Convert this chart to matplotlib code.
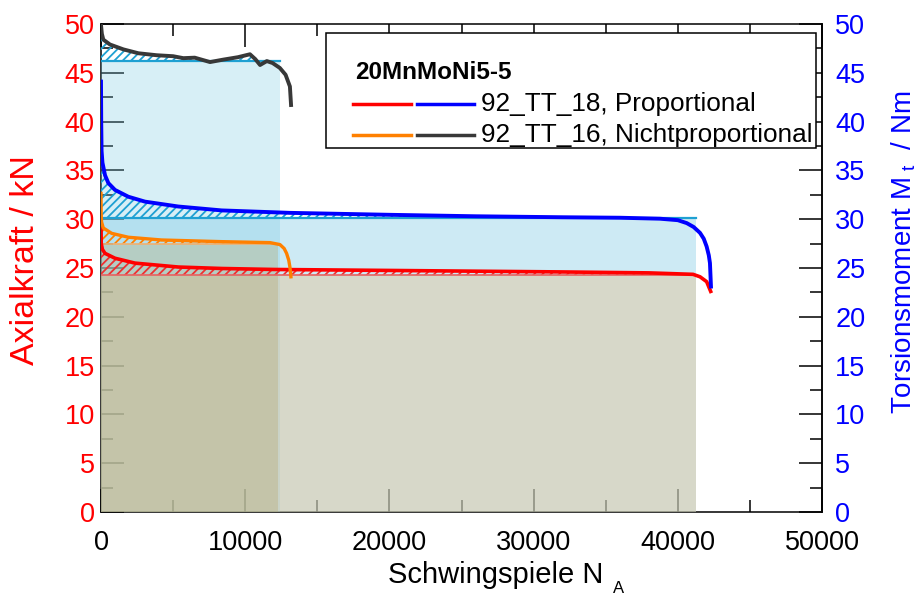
import matplotlib
matplotlib.use('Agg')
import matplotlib.pyplot as plt
from matplotlib.ticker import MultipleLocator
from matplotlib.patches import Rectangle
import numpy as np

plt.rcParams['font.family'] = ['Liberation Sans', 'DejaVu Sans']
plt.rcParams['mathtext.fontset'] = 'custom'
plt.rcParams['mathtext.rm'] = 'Liberation Sans'
plt.rcParams['mathtext.it'] = 'Liberation Sans:italic'
plt.rcParams['hatch.linewidth'] = 1.3

# ---------------- data ----------------
# 92_TT_18, proportional: torsion moment (Nm)
N_tt18_t = [0, 15, 40, 100, 280, 510, 970, 1900, 3050, 5360, 8370, 13100, 20000,
            26000, 32000, 36000, 38770, 40000, 40620, 41100, 41540, 41800, 42000,
            42150, 42230, 42300]
M_tt18_t = [44.1, 40.0, 37.0, 35.8, 34.5, 33.7, 33.0, 32.3, 31.8, 31.3, 30.9, 30.65,
            30.45, 30.3, 30.2, 30.15, 30.05, 29.9, 29.6, 29.2, 28.6, 28.0, 27.2,
            26.3, 25.5, 23.1]
# 92_TT_18, proportional: axial force (kN)
N_tt18_a = [0, 15, 100, 280, 970, 2360, 5360, 8370, 12000, 20000, 31800, 38000,
            41060, 41540, 42000, 42280]
F_tt18_a = [29.4, 27.5, 26.9, 26.5, 26.0, 25.5, 25.1, 24.95, 24.85, 24.75, 24.6,
            24.5, 24.35, 24.1, 23.6, 22.6]
# 92_TT_16, non-proportional: axial force (kN)
N_tt16_a = [0, 10, 40, 160, 740, 1900, 4200, 8370, 11720, 12410, 12700, 12870,
            13020, 13100, 13170]
F_tt16_a = [32.65, 30.5, 29.7, 29.1, 28.55, 28.15, 27.87, 27.7, 27.6, 27.4, 27.0,
            26.5, 25.8, 25.1, 24.1]
# 92_TT_16, non-proportional: torsion moment (Nm)
N_tt16_t = [0, 60, 160, 620, 1550, 2600, 3860, 5000, 5710, 6500, 7560, 8480, 9500,
            10330, 10700, 11030, 11500, 11900, 12400, 12800, 13100, 13180]
M_tt16_t = [49.9, 49.0, 48.4, 47.9, 47.4, 47.0, 46.8, 46.7, 46.5, 46.55, 46.1, 46.35,
            46.6, 46.9, 46.4, 45.8, 46.2, 46.0, 45.5, 44.8, 43.6, 41.7]

# stabilised plateau levels and life until crack (rectangle areas)
plateau_tt18_t, end_tt18_t = 30.15, 41260
plateau_tt16_t, end_tt16_t = 46.2, 12380
plateau_tt18_a, end_tt18_a = 24.3, 41260
plateau_tt16_a, end_tt16_a = 27.5, 12270

x_ticks = [0, 10000, 20000, 30000, 40000, 50000]
y_ticks = [0, 5, 10, 15, 20, 25, 30, 35, 40, 45, 50]

legend_title = '20MnMoNi5-5'
legend_labels = ['92_TT_18, Proportional', '92_TT_16, Nichtproportional']

# ---------------- colours ----------------
c_red = '#ff0000'
c_blue = '#0000ff'
c_orange = '#ff8000'
c_grey = '#383838'
c_cyan = '#1ea0d2'

# ---------------- figure ----------------
fig = plt.figure(figsize=(9.22, 5.95), dpi=100)
ax = fig.add_axes([101 / 922, 1 - 512 / 595, 721 / 922, 488 / 595])
ax2 = ax.twinx()
ax.set_axisbelow(True)

ax.set_xlim(0, 50000)
ax.set_ylim(0, 50)
ax2.set_ylim(0, 50)

# torsion rectangles (light blue)
ax.fill_between([0, end_tt16_t], 0, plateau_tt16_t, color='#7dcae4', alpha=0.30, lw=0, zorder=2.6)
ax.fill_between([0, end_tt18_t], 0, plateau_tt18_t, color='#7dcae4', alpha=0.385, lw=0, zorder=2.6)
# axial rectangles (olive)
ax.fill_between([0, end_tt18_a], 0, plateau_tt18_a, color='#e1c8a0', alpha=0.5, lw=0, zorder=2.61)
ax.fill_between([0, end_tt16_a], 0, plateau_tt16_a, color='#b9aa73', alpha=0.35, lw=0, zorder=2.62)

# plateau lines
ax.plot([0, end_tt16_t], [plateau_tt16_t] * 2, color=c_cyan, lw=1.6, zorder=2.8)
ax.plot([0, end_tt18_t], [plateau_tt18_t] * 2, color=c_cyan, lw=1.6, zorder=2.8)
ax.plot([0, end_tt16_a], [plateau_tt16_a] * 2, color='#f0b070', lw=1.2, zorder=2.8)
ax.plot([0, end_tt18_a], [plateau_tt18_a] * 2, color='#e86060', lw=1.2, zorder=2.8)


def hatch_area(N, v, level, end, col):
    N = np.asarray(N, float)
    v = np.asarray(v, float)
    where = (N <= end) & (v >= level)
    ax.fill_between(N, v, level, where=where, interpolate=True, facecolor='none',
                    edgecolor=col, hatch='////', lw=0, zorder=2.7)


hatch_area(N_tt16_t, M_tt16_t, plateau_tt16_t, end_tt16_t, c_cyan)
hatch_area(N_tt18_t, M_tt18_t, plateau_tt18_t, end_tt18_t, c_cyan)
hatch_area(N_tt16_a, F_tt16_a, plateau_tt16_a, end_tt16_a, c_orange)
hatch_area(N_tt18_a, F_tt18_a, plateau_tt18_a, end_tt18_a, '#ee3030')

# curves
ax.plot(N_tt18_a, F_tt18_a, color=c_red, lw=2.6, zorder=3)
ax.plot(N_tt16_a, F_tt16_a, color=c_orange, lw=2.4, zorder=3)
ax2.plot(N_tt18_t, M_tt18_t, color=c_blue, lw=2.8, zorder=3)
ax2.plot(N_tt16_t, M_tt16_t, color=c_grey, lw=2.8, zorder=3)

# ticks
ax.set_xticks(x_ticks)
ax.set_xticklabels([str(t) for t in x_ticks])
ax.xaxis.set_minor_locator(MultipleLocator(5000))
ax.set_yticks(y_ticks)
ax.set_yticklabels([str(t) for t in y_ticks])
ax.yaxis.set_minor_locator(MultipleLocator(2.5))
ax2.set_yticks(y_ticks)
ax2.set_yticklabels([str(t) for t in y_ticks])
ax2.yaxis.set_minor_locator(MultipleLocator(2.5))

ax.tick_params(which='both', direction='in', top=True, right=False, width=1.1, color='black')
ax.tick_params(which='major', length=16.5)
ax.tick_params(which='minor', length=8.5)
ax.tick_params(axis='y', labelcolor=c_red, labelsize=19.5, pad=4.5)
ax.tick_params(axis='x', labelcolor='black', labelsize=19.5, pad=13)
ax2.tick_params(axis='y', which='both', direction='in', right=True, left=False,
                width=1.1, color='black', labelcolor=c_blue, labelsize=19.5, pad=9.5)
ax2.tick_params(axis='y', which='major', length=16.5)
ax2.tick_params(axis='y', which='minor', length=8.5)
for s in ax.spines.values():
    s.set_linewidth(1.1)
for s in ['left', 'top', 'bottom']:
    ax2.spines[s].set_visible(False)
ax2.spines['right'].set_linewidth(1.1)

# axis labels
fig.text(496 / 922, 1 - 583 / 595, 'Schwingspiele N', fontsize=21, ha='center', va='baseline')
fig.text(613 / 922, 1 - 593 / 595, 'A', fontsize=12, ha='left', va='baseline')
fig.text(25 / 922, 1 - 260 / 595, 'Axialkraft / kN', rotation=90, color=c_red,
         fontsize=24.5, ha='center', va='center')
fig.text(904 / 922, 1 - 252 / 595, r'Torsionsmoment M$_{\ \mathrm{t}}$  / Nm', rotation=90,
         color=c_blue, fontsize=20, ha='center', va='center')

# legend (manual)
ax2.add_patch(Rectangle((0.312, 0.746), 0.679, 0.235, transform=ax2.transAxes,
                        facecolor='white', edgecolor='black', lw=1.1, zorder=5))
ax2.text(0.352, 0.8996, legend_title, transform=ax2.transAxes, fontsize=17.5,
         fontweight='bold', va='center', ha='left', zorder=6)
rows = [(0.836, c_red, c_blue, legend_labels[0]), (0.7725, c_orange, c_grey, legend_labels[1])]
for y, c1, c2, lab in rows:
    ax2.plot([0.3495, 0.430], [y, y], transform=ax2.transAxes, color=c1, lw=2.5, zorder=6)
    ax2.plot([0.438, 0.517], [y, y], transform=ax2.transAxes, color=c2, lw=2.5, zorder=6)
    ax2.text(0.527, y, lab, transform=ax2.transAxes, fontsize=18.8, va='center',
             ha='left', zorder=6)

fig.savefig('out.png', dpi=100)
